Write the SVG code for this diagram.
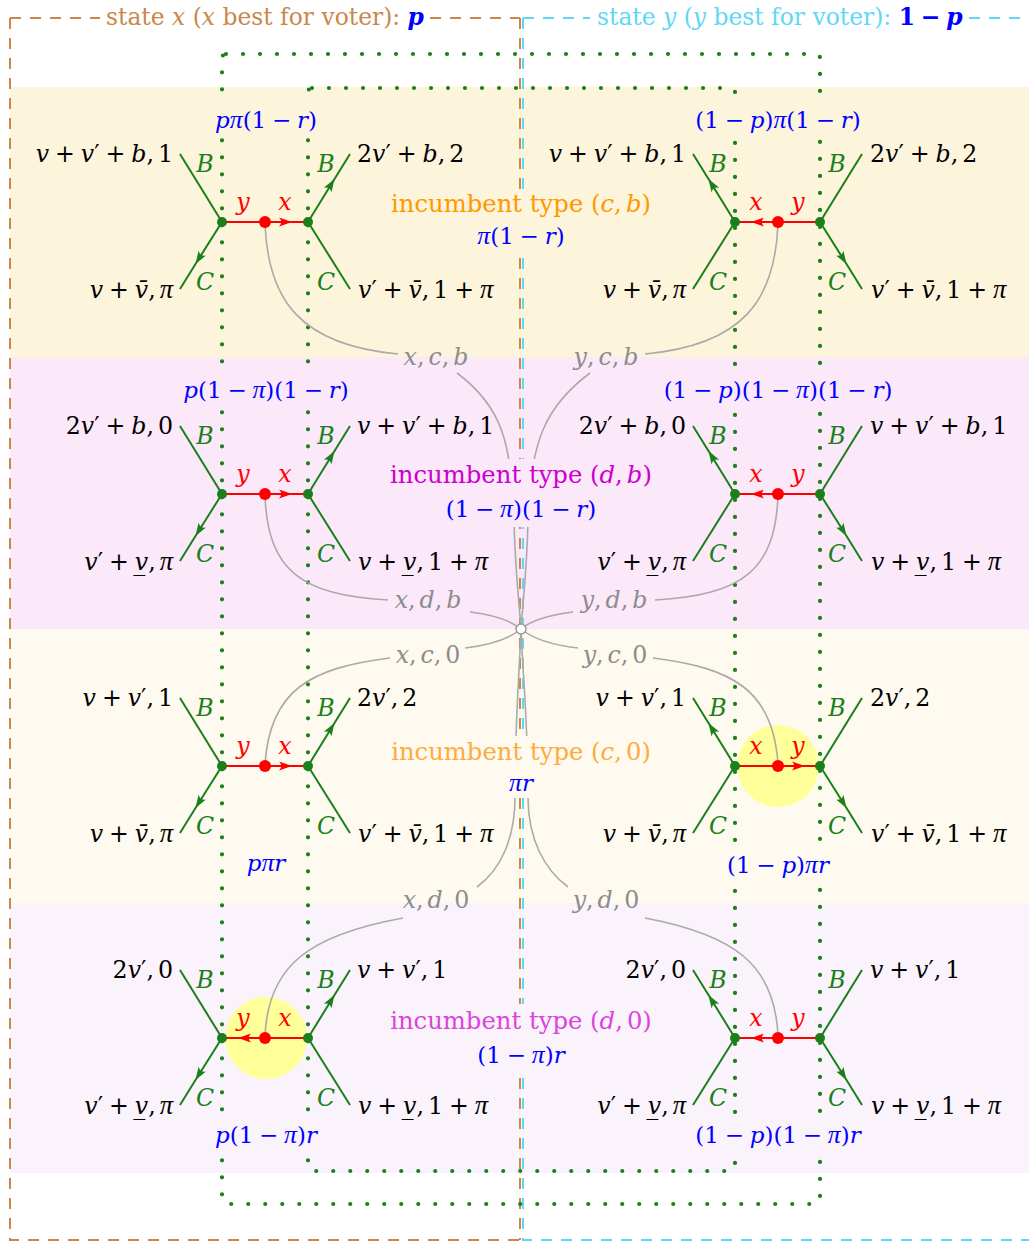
<svg xmlns="http://www.w3.org/2000/svg" width="1029" height="1242" viewBox="0 0 1029 1242">
<style>
.t{font-family:"DejaVu Serif","Liberation Serif",serif;font-size:23.7px}
.pr{font-size:23px}
.inc{font-size:24.3px}
.hd{font-size:23.4px}
.i{font-style:italic}
.pi{font-family:"Liberation Serif","DejaVu Serif",serif;font-style:italic;font-size:1.12em}
.e{text-anchor:end}
.m{text-anchor:middle}
.k{fill:#000}
.gn{fill:#1a801a}
.rd{fill:#ff0000}
.bl{fill:#0000ff}
.gy{fill:#8c8c8c}
.or{fill:#ff9900}
.or2{fill:#ffab40}
.mg{fill:#cc00cc}
.mg2{fill:#dd44dd}
.br{fill:#c8884a}
.cy{fill:#5fd8f7}
.ge{stroke:#1a801a;stroke-width:2;fill:none}
.re{stroke:#ff0000;stroke-width:2;fill:none}
.gc{stroke:#aaaaaa;stroke-width:1.6;fill:none}
.dot{stroke:#1a801a;stroke-width:4.2;stroke-dasharray:0 17;stroke-linecap:round;fill:none}
.dsb{stroke:#c8884a;stroke-width:2;stroke-dasharray:11 9;fill:none}
.dsc{stroke:#5fd8f7;stroke-width:2;stroke-dasharray:11 9;fill:none}
.gnode{fill:#1a801a}
.rnode{fill:#ff0000}
.b1{fill:#fdf4dc}.b2{fill:#fbe8f9}.b3{fill:#fefaef}.b4{fill:#fbf3fb}
</style>
<defs>
<marker id="mr" viewBox="0 0 14 10" refX="13" refY="5" markerWidth="14" markerHeight="10" markerUnits="userSpaceOnUse" orient="auto"><path d="M13,5 L0,0.5 Q4.5,5 0,9.5 Z" fill="#ff0000"/></marker>
<marker id="mg" viewBox="0 0 14 10" refX="13" refY="5" markerWidth="14" markerHeight="10" markerUnits="userSpaceOnUse" orient="auto"><path d="M13,5 L0,0.5 Q4.5,5 0,9.5 Z" fill="#1a801a"/></marker>
</defs>

<g id="bands">
<rect class="b1" x="10" y="87" width="1019" height="270"/>
<rect class="b2" x="10" y="357" width="1019" height="272"/>
<rect class="b3" x="10" y="629" width="1019" height="274"/>
<rect class="b4" x="10" y="903" width="1019" height="270"/>
<circle cx="778" cy="766" r="41" fill="#ffff99"/>
<circle cx="266" cy="1038" r="41" fill="#ffff99"/>
</g>

<g id="state-x">
<path class="dsb" d="M10,18 H100 M430,18 H520 M10,18 V1240 H520 M520,18 V1240"/>
<text class="t hd br" x="106" y="25">state <tspan class="i">x</tspan> (<tspan class="i">x</tspan> best for voter): <tspan class="i bl" font-weight="bold">p</tspan></text>
</g>
<g id="state-y">
<path class="dsc" d="M523,18 H590 M969,18 H1029 M523,18 V1240 H1029"/>
<text class="t hd cy" x="597" y="25">state <tspan class="i">y</tspan> (<tspan class="i">y</tspan> best for voter): <tspan class="bl" font-weight="bold">1&#8197;&#8722;&#8197;<tspan class="i">p</tspan></tspan></text>
</g>

<g id="information-sets">
<rect class="dot" x="222" y="54" width="598" height="1150" rx="4"/>
<rect class="dot" x="308" y="88" width="427" height="1083" rx="4"/>
</g>

<g id="connectors">
<path class="gc" d="M265,224 C268,300 300,345 398,354"/>
<path class="gc" d="M457,373 C500,405 512,440 514,520 C515,570 519,600 521,629"/>
<path class="gc" d="M778,224 C775,300 743,345 645,354"/>
<path class="gc" d="M590,373 C547,405 530,440 528,520 C527,570 523,600 521,629"/>
<path class="gc" d="M265,496 C268,570 300,595 388,600"/>
<path class="gc" d="M470,612 C495,615 510,620 521,629"/>
<path class="gc" d="M778,496 C775,570 743,595 655,600"/>
<path class="gc" d="M573,612 C548,615 532,620 521,629"/>
<path class="gc" d="M521,629 C510,638 490,645 465,648"/>
<path class="gc" d="M390,658 C310,668 270,690 265,764"/>
<path class="gc" d="M521,629 C532,638 552,645 578,648"/>
<path class="gc" d="M653,658 C733,668 773,690 778,764"/>
<path class="gc" d="M521,629 C519,680 515,720 515,797 C515,840 500,870 477,887"/>
<path class="gc" d="M403,918 C310,935 268,965 265,1036"/>
<path class="gc" d="M521,629 C523,680 528,720 528,797 C528,840 545,870 568,887"/>
<path class="gc" d="M645,918 C735,935 775,965 778,1036"/>
<circle cx="521" cy="629" r="5" fill="#ffffff" stroke="#999999" stroke-width="1.5"/>
<text class="t gy m" x="436" y="365"><tspan class="i">x</tspan>,&#8198;<tspan class="i">c</tspan>,&#8198;<tspan class="i">b</tspan></text>
<text class="t gy m" x="606" y="365"><tspan class="i">y</tspan>,&#8198;<tspan class="i">c</tspan>,&#8198;<tspan class="i">b</tspan></text>
<text class="t gy m" x="428" y="608"><tspan class="i">x</tspan>,&#8198;<tspan class="i">d</tspan>,&#8198;<tspan class="i">b</tspan></text>
<text class="t gy m" x="614" y="608"><tspan class="i">y</tspan>,&#8198;<tspan class="i">d</tspan>,&#8198;<tspan class="i">b</tspan></text>
<text class="t gy m" x="428" y="663"><tspan class="i">x</tspan>,&#8198;<tspan class="i">c</tspan>,&#8198;0</text>
<text class="t gy m" x="615" y="663"><tspan class="i">y</tspan>,&#8198;<tspan class="i">c</tspan>,&#8198;0</text>
<text class="t gy m" x="436" y="908"><tspan class="i">x</tspan>,&#8198;<tspan class="i">d</tspan>,&#8198;0</text>
<text class="t gy m" x="606" y="908"><tspan class="i">y</tspan>,&#8198;<tspan class="i">d</tspan>,&#8198;0</text>
</g>

<g id="incumbent-cb">
<rect class="b1" x="388" y="190" width="268" height="64"/>
<text class="t inc or m" x="521" y="212">incumbent type (<tspan class="i">c</tspan>,&#8198;<tspan class="i">b</tspan>)</text>
<text class="t pr bl m" x="521" y="244"><tspan class="pi">&#960;</tspan>(1&#8197;&#8722;&#8197;<tspan class="i">r</tspan>)</text>
</g>
<g id="incumbent-db">
<rect class="b2" x="386" y="459" width="270" height="68"/>
<text class="t inc mg m" x="521" y="483">incumbent type (<tspan class="i">d</tspan>,&#8198;<tspan class="i">b</tspan>)</text>
<text class="t pr bl m" x="521" y="517">(1&#8197;&#8722;&#8197;<tspan class="pi">&#960;</tspan>)(1&#8197;&#8722;&#8197;<tspan class="i">r</tspan>)</text>
</g>
<g id="incumbent-c0">
<rect class="b3" x="390" y="736" width="262" height="62"/>
<text class="t inc or2 m" x="521" y="760">incumbent type (<tspan class="i">c</tspan>,&#8198;0)</text>
<text class="t pr bl m" x="521" y="791"><tspan class="pi">&#960;</tspan><tspan class="i">r</tspan></text>
</g>
<g id="incumbent-d0">
<rect class="b4" x="388" y="1004" width="268" height="66"/>
<text class="t inc mg2 m" x="521" y="1029">incumbent type (<tspan class="i">d</tspan>,&#8198;0)</text>
<text class="t pr bl m" x="521" y="1063">(1&#8197;&#8722;&#8197;<tspan class="pi">&#960;</tspan>)<tspan class="i">r</tspan></text>
</g>

<!-- Row 1 -->
<g id="game-x-cb">
<rect class="b1" x="208" y="101" width="118" height="34"/>
<text class="t pr bl m" x="266" y="128"><tspan class="i">p</tspan><tspan class="pi">&#960;</tspan>(1&#8197;&#8722;&#8197;<tspan class="i">r</tspan>)</text>
<path class="ge" d="M222,222 L180,154"/>
<path class="ge" d="M222,222 L195.5,264 L180,289" marker-mid="url(#mg)"/>
<path class="ge" d="M308,222 L334.5,179 L350,154" marker-mid="url(#mg)"/>
<path class="ge" d="M308,222 L350,289"/>
<path class="re" d="M265,222 L222,222"/>
<path class="re" d="M265,222 L292,222 L308,222" marker-mid="url(#mr)"/>
<circle class="gnode" cx="222" cy="222" r="5"/><circle class="gnode" cx="308" cy="222" r="5"/><circle class="rnode" cx="265" cy="222" r="6"/>
<text class="t gn i m" x="205" y="172">B</text><text class="t gn i m" x="205" y="290">C</text>
<text class="t gn i m" x="326" y="172">B</text><text class="t gn i m" x="326" y="290">C</text>
<text class="t rd i m" x="243" y="210">y</text><text class="t rd i m" x="285" y="210">x</text>
<text class="t k e" x="173" y="162"><tspan class="i">v</tspan>&#8197;+&#8197;<tspan class="i">v</tspan>&#8242;&#8197;+&#8197;<tspan class="i">b</tspan>,&#8198;1</text>
<text class="t k e" x="173" y="298"><tspan class="i">v</tspan>&#8197;+&#8197;<tspan class="i">v&#772;</tspan>,&#8198;<tspan class="pi">&#960;</tspan></text>
<text class="t k" x="357" y="162">2<tspan class="i">v</tspan>&#8242;&#8197;+&#8197;<tspan class="i">b</tspan>,&#8198;2</text>
<text class="t k" x="358" y="298"><tspan class="i">v</tspan>&#8242;&#8197;+&#8197;<tspan class="i">v&#772;</tspan>,&#8198;1&#8197;+&#8197;<tspan class="pi">&#960;</tspan></text>
</g>
<g id="game-y-cb">
<rect class="b1" x="688" y="101" width="180" height="34"/>
<text class="t pr bl m" x="778" y="128">(1&#8197;&#8722;&#8197;<tspan class="i">p</tspan>)<tspan class="pi">&#960;</tspan>(1&#8197;&#8722;&#8197;<tspan class="i">r</tspan>)</text>
<path class="ge" d="M735,222 L708.5,179 L693,154" marker-mid="url(#mg)"/>
<path class="ge" d="M735,222 L693,289"/>
<path class="ge" d="M820,222 L862,154"/>
<path class="ge" d="M820,222 L846.5,264 L862,289" marker-mid="url(#mg)"/>
<path class="re" d="M778,222 L820,222"/>
<path class="re" d="M778,222 L751,222 L735,222" marker-mid="url(#mr)"/>
<circle class="gnode" cx="735" cy="222" r="5"/><circle class="gnode" cx="820" cy="222" r="5"/><circle class="rnode" cx="778" cy="222" r="6"/>
<text class="t gn i m" x="718" y="172">B</text><text class="t gn i m" x="718" y="290">C</text>
<text class="t gn i m" x="837" y="172">B</text><text class="t gn i m" x="837" y="290">C</text>
<text class="t rd i m" x="756" y="210">x</text><text class="t rd i m" x="798" y="210">y</text>
<text class="t k e" x="686" y="162"><tspan class="i">v</tspan>&#8197;+&#8197;<tspan class="i">v</tspan>&#8242;&#8197;+&#8197;<tspan class="i">b</tspan>,&#8198;1</text>
<text class="t k e" x="686" y="298"><tspan class="i">v</tspan>&#8197;+&#8197;<tspan class="i">v&#772;</tspan>,&#8198;<tspan class="pi">&#960;</tspan></text>
<text class="t k" x="870" y="162">2<tspan class="i">v</tspan>&#8242;&#8197;+&#8197;<tspan class="i">b</tspan>,&#8198;2</text>
<text class="t k" x="871" y="298"><tspan class="i">v</tspan>&#8242;&#8197;+&#8197;<tspan class="i">v&#772;</tspan>,&#8198;1&#8197;+&#8197;<tspan class="pi">&#960;</tspan></text>
</g>

<!-- Row 2 -->
<g id="game-x-db">
<rect class="b2" x="178" y="372" width="178" height="34"/>
<text class="t pr bl m" x="266" y="398"><tspan class="i">p</tspan>(1&#8197;&#8722;&#8197;<tspan class="pi">&#960;</tspan>)(1&#8197;&#8722;&#8197;<tspan class="i">r</tspan>)</text>
<path class="ge" d="M222,494 L180,426"/>
<path class="ge" d="M222,494 L195.5,536 L180,561" marker-mid="url(#mg)"/>
<path class="ge" d="M308,494 L334.5,451 L350,426" marker-mid="url(#mg)"/>
<path class="ge" d="M308,494 L350,561"/>
<path class="re" d="M265,494 L222,494"/>
<path class="re" d="M265,494 L292,494 L308,494" marker-mid="url(#mr)"/>
<circle class="gnode" cx="222" cy="494" r="5"/><circle class="gnode" cx="308" cy="494" r="5"/><circle class="rnode" cx="265" cy="494" r="6"/>
<text class="t gn i m" x="205" y="444">B</text><text class="t gn i m" x="205" y="562">C</text>
<text class="t gn i m" x="326" y="444">B</text><text class="t gn i m" x="326" y="562">C</text>
<text class="t rd i m" x="243" y="482">y</text><text class="t rd i m" x="285" y="482">x</text>
<text class="t k e" x="173" y="434">2<tspan class="i">v</tspan>&#8242;&#8197;+&#8197;<tspan class="i">b</tspan>,&#8198;0</text>
<text class="t k e" x="173" y="570"><tspan class="i">v</tspan>&#8242;&#8197;+&#8197;<tspan class="i">v&#818;</tspan>,&#8198;<tspan class="pi">&#960;</tspan></text>
<text class="t k" x="357" y="434"><tspan class="i">v</tspan>&#8197;+&#8197;<tspan class="i">v</tspan>&#8242;&#8197;+&#8197;<tspan class="i">b</tspan>,&#8198;1</text>
<text class="t k" x="358" y="570"><tspan class="i">v</tspan>&#8197;+&#8197;<tspan class="i">v&#818;</tspan>,&#8198;1&#8197;+&#8197;<tspan class="pi">&#960;</tspan></text>
</g>
<g id="game-y-db">
<rect class="b2" x="659" y="372" width="238" height="34"/>
<text class="t pr bl m" x="778" y="398">(1&#8197;&#8722;&#8197;<tspan class="i">p</tspan>)(1&#8197;&#8722;&#8197;<tspan class="pi">&#960;</tspan>)(1&#8197;&#8722;&#8197;<tspan class="i">r</tspan>)</text>
<path class="ge" d="M735,494 L708.5,451 L693,426" marker-mid="url(#mg)"/>
<path class="ge" d="M735,494 L693,561"/>
<path class="ge" d="M820,494 L862,426"/>
<path class="ge" d="M820,494 L846.5,536 L862,561" marker-mid="url(#mg)"/>
<path class="re" d="M778,494 L820,494"/>
<path class="re" d="M778,494 L751,494 L735,494" marker-mid="url(#mr)"/>
<circle class="gnode" cx="735" cy="494" r="5"/><circle class="gnode" cx="820" cy="494" r="5"/><circle class="rnode" cx="778" cy="494" r="6"/>
<text class="t gn i m" x="718" y="444">B</text><text class="t gn i m" x="718" y="562">C</text>
<text class="t gn i m" x="837" y="444">B</text><text class="t gn i m" x="837" y="562">C</text>
<text class="t rd i m" x="756" y="482">x</text><text class="t rd i m" x="798" y="482">y</text>
<text class="t k e" x="686" y="434">2<tspan class="i">v</tspan>&#8242;&#8197;+&#8197;<tspan class="i">b</tspan>,&#8198;0</text>
<text class="t k e" x="686" y="570"><tspan class="i">v</tspan>&#8242;&#8197;+&#8197;<tspan class="i">v&#818;</tspan>,&#8198;<tspan class="pi">&#960;</tspan></text>
<text class="t k" x="870" y="434"><tspan class="i">v</tspan>&#8197;+&#8197;<tspan class="i">v</tspan>&#8242;&#8197;+&#8197;<tspan class="i">b</tspan>,&#8198;1</text>
<text class="t k" x="871" y="570"><tspan class="i">v</tspan>&#8197;+&#8197;<tspan class="i">v&#818;</tspan>,&#8198;1&#8197;+&#8197;<tspan class="pi">&#960;</tspan></text>
</g>

<!-- Row 3 -->
<g id="game-x-c0">
<rect class="b3" x="238" y="849" width="56" height="30"/>
<text class="t pr bl m" x="266" y="871"><tspan class="i">p</tspan><tspan class="pi">&#960;</tspan><tspan class="i">r</tspan></text>
<path class="ge" d="M222,766 L180,698"/>
<path class="ge" d="M222,766 L195.5,808 L180,833" marker-mid="url(#mg)"/>
<path class="ge" d="M308,766 L334.5,723 L350,698" marker-mid="url(#mg)"/>
<path class="ge" d="M308,766 L350,833"/>
<path class="re" d="M265,766 L222,766"/>
<path class="re" d="M265,766 L292,766 L308,766" marker-mid="url(#mr)"/>
<circle class="gnode" cx="222" cy="766" r="5"/><circle class="gnode" cx="308" cy="766" r="5"/><circle class="rnode" cx="265" cy="766" r="6"/>
<text class="t gn i m" x="205" y="716">B</text><text class="t gn i m" x="205" y="834">C</text>
<text class="t gn i m" x="326" y="716">B</text><text class="t gn i m" x="326" y="834">C</text>
<text class="t rd i m" x="243" y="754">y</text><text class="t rd i m" x="285" y="754">x</text>
<text class="t k e" x="173" y="706"><tspan class="i">v</tspan>&#8197;+&#8197;<tspan class="i">v</tspan>&#8242;,&#8198;1</text>
<text class="t k e" x="173" y="842"><tspan class="i">v</tspan>&#8197;+&#8197;<tspan class="i">v&#772;</tspan>,&#8198;<tspan class="pi">&#960;</tspan></text>
<text class="t k" x="357" y="706">2<tspan class="i">v</tspan>&#8242;,&#8198;2</text>
<text class="t k" x="358" y="842"><tspan class="i">v</tspan>&#8242;&#8197;+&#8197;<tspan class="i">v&#772;</tspan>,&#8198;1&#8197;+&#8197;<tspan class="pi">&#960;</tspan></text>
</g>
<g id="game-y-c0">
<rect class="b3" x="719" y="851" width="117" height="30"/>
<text class="t pr bl m" x="778" y="873">(1&#8197;&#8722;&#8197;<tspan class="i">p</tspan>)<tspan class="pi">&#960;</tspan><tspan class="i">r</tspan></text>
<path class="ge" d="M735,766 L708.5,723 L693,698" marker-mid="url(#mg)"/>
<path class="ge" d="M735,766 L693,833"/>
<path class="ge" d="M820,766 L862,698"/>
<path class="ge" d="M820,766 L846.5,808 L862,833" marker-mid="url(#mg)"/>
<path class="re" d="M778,766 L735,766"/>
<path class="re" d="M778,766 L805,766 L820,766" marker-mid="url(#mr)"/>
<circle class="gnode" cx="735" cy="766" r="5"/><circle class="gnode" cx="820" cy="766" r="5"/><circle class="rnode" cx="778" cy="766" r="6"/>
<text class="t gn i m" x="718" y="716">B</text><text class="t gn i m" x="718" y="834">C</text>
<text class="t gn i m" x="837" y="716">B</text><text class="t gn i m" x="837" y="834">C</text>
<text class="t rd i m" x="756" y="754">x</text><text class="t rd i m" x="798" y="754">y</text>
<text class="t k e" x="686" y="706"><tspan class="i">v</tspan>&#8197;+&#8197;<tspan class="i">v</tspan>&#8242;,&#8198;1</text>
<text class="t k e" x="686" y="842"><tspan class="i">v</tspan>&#8197;+&#8197;<tspan class="i">v&#772;</tspan>,&#8198;<tspan class="pi">&#960;</tspan></text>
<text class="t k" x="870" y="706">2<tspan class="i">v</tspan>&#8242;,&#8198;2</text>
<text class="t k" x="871" y="842"><tspan class="i">v</tspan>&#8242;&#8197;+&#8197;<tspan class="i">v&#772;</tspan>,&#8198;1&#8197;+&#8197;<tspan class="pi">&#960;</tspan></text>
</g>

<!-- Row 4 -->
<g id="game-x-d0">
<rect class="b4" x="208" y="1120" width="116" height="32"/>
<text class="t pr bl m" x="266" y="1143"><tspan class="i">p</tspan>(1&#8197;&#8722;&#8197;<tspan class="pi">&#960;</tspan>)<tspan class="i">r</tspan></text>
<path class="ge" d="M222,1038 L180,970"/>
<path class="ge" d="M222,1038 L195.5,1080 L180,1105" marker-mid="url(#mg)"/>
<path class="ge" d="M308,1038 L334.5,995 L350,970" marker-mid="url(#mg)"/>
<path class="ge" d="M308,1038 L350,1105"/>
<path class="re" d="M265,1038 L308,1038"/>
<path class="re" d="M265,1038 L238,1038 L222,1038" marker-mid="url(#mr)"/>
<circle class="gnode" cx="222" cy="1038" r="5"/><circle class="gnode" cx="308" cy="1038" r="5"/><circle class="rnode" cx="265" cy="1038" r="6"/>
<text class="t gn i m" x="205" y="988">B</text><text class="t gn i m" x="205" y="1106">C</text>
<text class="t gn i m" x="326" y="988">B</text><text class="t gn i m" x="326" y="1106">C</text>
<text class="t rd i m" x="243" y="1026">y</text><text class="t rd i m" x="285" y="1026">x</text>
<text class="t k e" x="173" y="978">2<tspan class="i">v</tspan>&#8242;,&#8198;0</text>
<text class="t k e" x="173" y="1114"><tspan class="i">v</tspan>&#8242;&#8197;+&#8197;<tspan class="i">v&#818;</tspan>,&#8198;<tspan class="pi">&#960;</tspan></text>
<text class="t k" x="357" y="978"><tspan class="i">v</tspan>&#8197;+&#8197;<tspan class="i">v</tspan>&#8242;,&#8198;1</text>
<text class="t k" x="358" y="1114"><tspan class="i">v</tspan>&#8197;+&#8197;<tspan class="i">v&#818;</tspan>,&#8198;1&#8197;+&#8197;<tspan class="pi">&#960;</tspan></text>
</g>
<g id="game-y-d0">
<rect class="b4" x="689" y="1120" width="178" height="32"/>
<text class="t pr bl m" x="778" y="1143">(1&#8197;&#8722;&#8197;<tspan class="i">p</tspan>)(1&#8197;&#8722;&#8197;<tspan class="pi">&#960;</tspan>)<tspan class="i">r</tspan></text>
<path class="ge" d="M735,1038 L708.5,995 L693,970" marker-mid="url(#mg)"/>
<path class="ge" d="M735,1038 L693,1105"/>
<path class="ge" d="M820,1038 L862,970"/>
<path class="ge" d="M820,1038 L846.5,1080 L862,1105" marker-mid="url(#mg)"/>
<path class="re" d="M778,1038 L820,1038"/>
<path class="re" d="M778,1038 L751,1038 L735,1038" marker-mid="url(#mr)"/>
<circle class="gnode" cx="735" cy="1038" r="5"/><circle class="gnode" cx="820" cy="1038" r="5"/><circle class="rnode" cx="778" cy="1038" r="6"/>
<text class="t gn i m" x="718" y="988">B</text><text class="t gn i m" x="718" y="1106">C</text>
<text class="t gn i m" x="837" y="988">B</text><text class="t gn i m" x="837" y="1106">C</text>
<text class="t rd i m" x="756" y="1026">x</text><text class="t rd i m" x="798" y="1026">y</text>
<text class="t k e" x="686" y="978">2<tspan class="i">v</tspan>&#8242;,&#8198;0</text>
<text class="t k e" x="686" y="1114"><tspan class="i">v</tspan>&#8242;&#8197;+&#8197;<tspan class="i">v&#818;</tspan>,&#8198;<tspan class="pi">&#960;</tspan></text>
<text class="t k" x="870" y="978"><tspan class="i">v</tspan>&#8197;+&#8197;<tspan class="i">v</tspan>&#8242;,&#8198;1</text>
<text class="t k" x="871" y="1114"><tspan class="i">v</tspan>&#8197;+&#8197;<tspan class="i">v&#818;</tspan>,&#8198;1&#8197;+&#8197;<tspan class="pi">&#960;</tspan></text>
</g>
</svg>
